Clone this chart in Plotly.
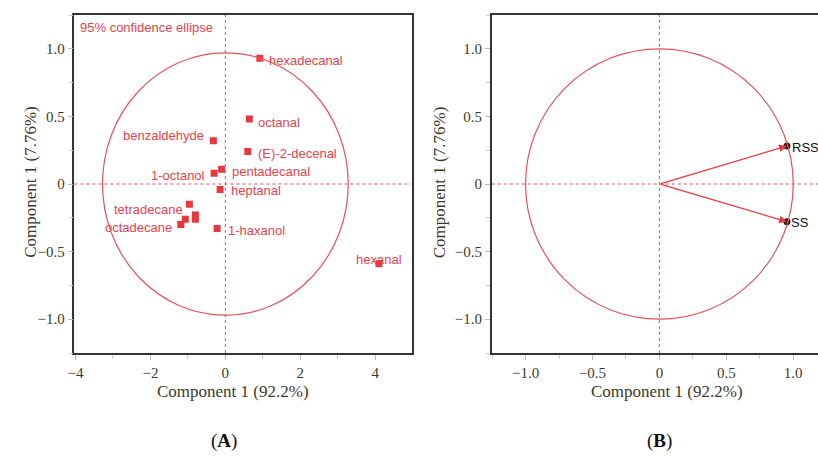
import plotly.graph_objects as go

# ---------------- data ----------------
# Panel A: scores
compounds = ["hexadecanal", "octanal", "benzaldehyde", "(E)-2-decenal", "pentadecanal",
             "1-octanol", "heptanal", "tetradecane", "", "", "", "octadecane",
             "1-haxanol", "hexanal"]
pc1_scores = [0.92, 0.64, -0.32, 0.60, -0.10, -0.30, -0.14, -0.96, -0.80, -0.80, -1.07, -1.19, -0.22, 4.10]
pc2_scores = [0.93, 0.48, 0.32, 0.24, 0.11, 0.08, -0.04, -0.15, -0.23, -0.26, -0.26, -0.30, -0.33, -0.59]
# label placement (style only): anchor side and pixel offsets
label_anchor = ["left", "left", "right", "left", "left", "right", "left", "right", "left", "left", "left", "right", "left", "center"]
label_dx = [4, 4, -4, 5, 5, -4, 6, -1, 0, 0, 0, -4, 6, 0]
label_dy = [-2, -3, 5, -2, -2, -2, -1, -5, 0, 0, 0, -3, -2, 4]

ellipse_rx, ellipse_ry = 3.28, 0.97

# Panel B: loadings
variables = ["RSS", "SS"]
pc1_load = [0.953, 0.953]
pc2_load = [0.281, -0.279]
var_dx = [3, 2]

x_ticks_A = [-4, -2, 0, 2, 4]
x_ticktext_A = ["\u22124", "\u22122", "0", "2", "4"]
x_ticks_B = [-1.0, -0.5, 0, 0.5, 1.0]
x_ticktext_B = ["\u22121.0", "\u22120.5", "0", "0.5", "1.0"]
y_ticks = [-1.0, -0.5, 0, 0.5, 1.0]
y_ticktext = ["\u22121.0", "\u22120.5", "0", "0.5", "1.0"]

RED = "#E8383F"
RED_TXT = "#E8424C"
RED_LINE = "#E8505A"
AXTXT = "#3b3b2c"
SANS = "Liberation Sans, Arial, sans-serif"
SERIF = "Liberation Serif, Times New Roman, serif"

W, H = 818, 456


def pxx(v):
    return v / W


def pxy(v):
    return 1 - v / H


fig = go.Figure()

# Panel A points
fig.add_trace(go.Scatter(
    x=pc1_scores, y=pc2_scores, mode="markers",
    marker=dict(symbol="square", size=7, color=RED),
    xaxis="x", yaxis="y", showlegend=False, hoverinfo="skip"))

# Panel B tip dots
fig.add_trace(go.Scatter(
    x=pc1_load, y=pc2_load, mode="markers",
    marker=dict(symbol="circle", size=7, color="#2a1a1a"),
    xaxis="x2", yaxis="y2", showlegend=False, hoverinfo="skip", cliponaxis=False))

annotations = []
for name, xv, yv, anc, dx, dy in zip(compounds, pc1_scores, pc2_scores, label_anchor, label_dx, label_dy):
    if not name:
        continue
    annotations.append(dict(
        x=xv, y=yv, xref="x", yref="y", text=name, showarrow=False,
        xanchor=anc, yanchor="middle", xshift=dx + (3 if anc == "left" else (-3 if anc == "right" else 0)),
        yshift=dy, font=dict(family=SANS, size=13, color=RED_TXT)))

# arrows for loadings
for xv, yv in zip(pc1_load, pc2_load):
    annotations.append(dict(
        x=xv, y=yv, xref="x2", yref="y2", ax=0, ay=0, axref="x2", ayref="y2",
        showarrow=True, arrowhead=2, arrowsize=1.2, arrowwidth=1.3, arrowcolor=RED, text=""))
for name, xv, yv, dx in zip(variables, pc1_load, pc2_load, var_dx):
    annotations.append(dict(
        x=xv, y=yv, xref="x2", yref="y2", text=name, showarrow=False,
        xanchor="left", yanchor="middle", xshift=dx, yshift=-1,
        font=dict(family=SANS, size=13, color="#111111")))

# 95% text
annotations.append(dict(x=pxx(72), y=pxy(27), xref="paper", yref="paper",
                        text="95% confidence ellipse", showarrow=False, xanchor="left", yanchor="middle",
                        font=dict(family=SANS, size=13, color=RED_TXT)))

# axis titles
for cx in (228, 666):
    annotations.append(dict(x=pxx(cx), y=pxy(391), xref="paper", yref="paper",
                            text="Component 1 (92.2%)", showarrow=False, xanchor="center", yanchor="middle",
                            font=dict(family=SERIF, size=17, color=AXTXT)))
for cx in (23, 436):
    annotations.append(dict(x=pxx(cx), y=pxy(182), xref="paper", yref="paper",
                            text="Component 1 (7.76%)", showarrow=False, xanchor="center", yanchor="middle",
                            textangle=-90, font=dict(family=SERIF, size=17, color=AXTXT)))
# panel labels
for cx, lab in ((219, "(<b>A</b>)"), (658, "(<b>B</b>)")):
    annotations.append(dict(x=pxx(cx), y=pxy(441), xref="paper", yref="paper",
                            text=lab, showarrow=False, xanchor="center", yanchor="middle",
                            font=dict(family=SERIF, size=19, color="#111111")))

shapes = [
    dict(type="circle", xref="x", yref="y", x0=-ellipse_rx, x1=ellipse_rx, y0=-ellipse_ry, y1=ellipse_ry,
         line=dict(color=RED_LINE, width=1.2), layer="above"),
    dict(type="circle", xref="x2", yref="y2", x0=-1, x1=1, y0=-1, y1=1,
         line=dict(color=RED_LINE, width=1.2), layer="above"),
]
for xa, ya in (("x", "y"), ("x2", "y2")):
    shapes.append(dict(type="line", xref=xa, yref=ya + " domain", x0=0, x1=0, y0=0, y1=1,
                       line=dict(color=RED_LINE, width=1, dash="dot")))
    shapes.append(dict(type="line", xref=xa + " domain", yref=ya, x0=0, x1=1, y0=0, y1=0,
                       line=dict(color=RED_LINE, width=1, dash="dot")))

axis_common = dict(showgrid=False, zeroline=False, showline=True, linecolor="#333333", linewidth=1.5,
                   ticks="outside", ticklen=5, tickcolor="#bbbbbb", tickwidth=1,
                   tickfont=dict(family=SERIF, size=15, color=AXTXT))

yd = [pxy(353), pxy(15)]

fig.update_layout(
    width=W, height=H, margin=dict(l=0, r=0, t=0, b=0),
    paper_bgcolor="white", plot_bgcolor="white",
    xaxis=dict(domain=[pxx(68), pxx(408)], range=[-4.03, 4.97], anchor="y", mirror=True,
               tickvals=x_ticks_A, ticktext=x_ticktext_A,
               minor=dict(dtick=1, tick0=0, ticks="outside", ticklen=4, tickcolor="#cccccc"), **axis_common),
    yaxis=dict(domain=yd, range=[-1.25, 1.25], anchor="x", mirror=True,
               tickvals=y_ticks, ticktext=y_ticktext,
               minor=dict(dtick=0.25, tick0=0, ticks="outside", ticklen=4, tickcolor="#cccccc"), **axis_common),
    xaxis2=dict(domain=[pxx(489), 1.0], range=[-1.252, 1.185], anchor="y2", mirror=True,
                tickvals=x_ticks_B, ticktext=x_ticktext_B,
                minor=dict(dtick=0.25, tick0=0, ticks="outside", ticklen=4, tickcolor="#cccccc"), **axis_common),
    yaxis2=dict(domain=yd, range=[-1.25, 1.25], anchor="x2", mirror=False,
                tickvals=y_ticks, ticktext=y_ticktext,
                minor=dict(dtick=0.25, tick0=0, ticks="outside", ticklen=4, tickcolor="#cccccc"), **axis_common),
    annotations=annotations, shapes=shapes,
)

fig.write_html("out.html", config={"displayModeBar": False},
               post_script="document.body.style.margin='0px';document.body.style.overflow='hidden';")
